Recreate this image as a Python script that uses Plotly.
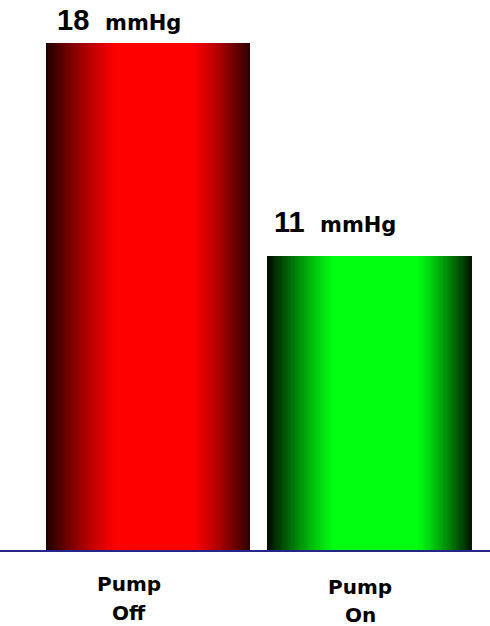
import plotly.graph_objects as go
import math

# ---- data ----
categories = ["Pump Off", "Pump On"]
values = [18, 11]
unit = "mmHg"
label_lines = [["Pump", "Off"], ["Pump", "On"]]

# ---- styles ----
NUM_FONT = "'Liberation Sans', Arial, sans-serif"
TXT_FONT = "'DejaVu Sans', Verdana, sans-serif"
peak_colors = [(255, 0, 0), (0, 255, 16)]
edge_left = [(30, 0, 0), (0, 12, 0)]
edge_right = [(42, 0, 0), (0, 20, 0)]
sat = [1.2, 1.25]
BAR_W = 0.922
N = 90
PEAK_T = 0.55


def shade(i, t):
    if t < PEAK_T:
        s = t / PEAK_T
        edge = edge_left[i]
    else:
        s = (1 - t) / (1 - PEAK_T)
        edge = edge_right[i]
    f = min(1.0, sat[i] * math.sin(s * math.pi / 2))
    c = [round(e + (p - e) * f) for e, p in zip(edge, peak_colors[i])]
    return "rgb(%d,%d,%d)" % tuple(c)


fig = go.Figure()
d = BAR_W / N
for k in range(N):
    start = -BAR_W / 2 + k * d
    w = min(d * 1.8, BAR_W / 2 - start)
    t = (k + 0.5) / N
    fig.add_trace(go.Bar(
        x=list(range(len(categories))), y=values,
        offset=start, width=w,
        marker=dict(color=[shade(i, t) for i in range(len(categories))],
                    line=dict(width=0)),
        hoverinfo="skip", showlegend=False,
    ))

# value labels: number + unit
num_xshift = [-57, -62]
num_yshift = [5, 16]
unit_xshift = [-45, -51]
unit_yshift = [6.5, 17.5]
for i, v in enumerate(values):
    fig.add_annotation(
        x=i, y=v, xref="x", yref="y", xanchor="right", yanchor="bottom",
        xshift=num_xshift[i], yshift=num_yshift[i], showarrow=False,
        text="<b>%d</b>" % v,
        font=dict(family=NUM_FONT, size=29, color="#000000"),
    )
    fig.add_annotation(
        x=i, y=v, xref="x", yref="y", xanchor="left", yanchor="bottom",
        xshift=unit_xshift[i], yshift=unit_yshift[i], showarrow=False,
        text="<b>%s</b>" % unit,
        font=dict(family=TXT_FONT, size=21, color="#000000"),
    )

# category labels
lab_xshift = [-19, -9]
lab_yshift = [[-21, -50], [-23.5, -52]]
for i, lines in enumerate(label_lines):
    for j, ln in enumerate(lines):
        fig.add_annotation(
            x=i, y=0, xref="x", yref="paper", xanchor="center", yanchor="top",
            xshift=lab_xshift[i], yshift=lab_yshift[i][j], showarrow=False,
            borderpad=0,
            text="<b>%s</b>" % ln,
            font=dict(family=TXT_FONT, size=20, color="#000000"),
        )

fig.update_layout(
    width=490, height=626,
    margin=dict(l=0, r=0, t=20, b=76, pad=0),
    paper_bgcolor="white", plot_bgcolor="white",
    barmode="overlay", bargap=0,
    xaxis=dict(range=[-0.668, 1.544], showticklabels=False, showgrid=False,
               zeroline=False, showline=True, linecolor="#26268a", linewidth=2,
               ticks=""),
    yaxis=dict(range=[1.347, 18.764], visible=False, showgrid=False,
               zeroline=False),
    showlegend=False,
)

fig.write_html("out.html")
